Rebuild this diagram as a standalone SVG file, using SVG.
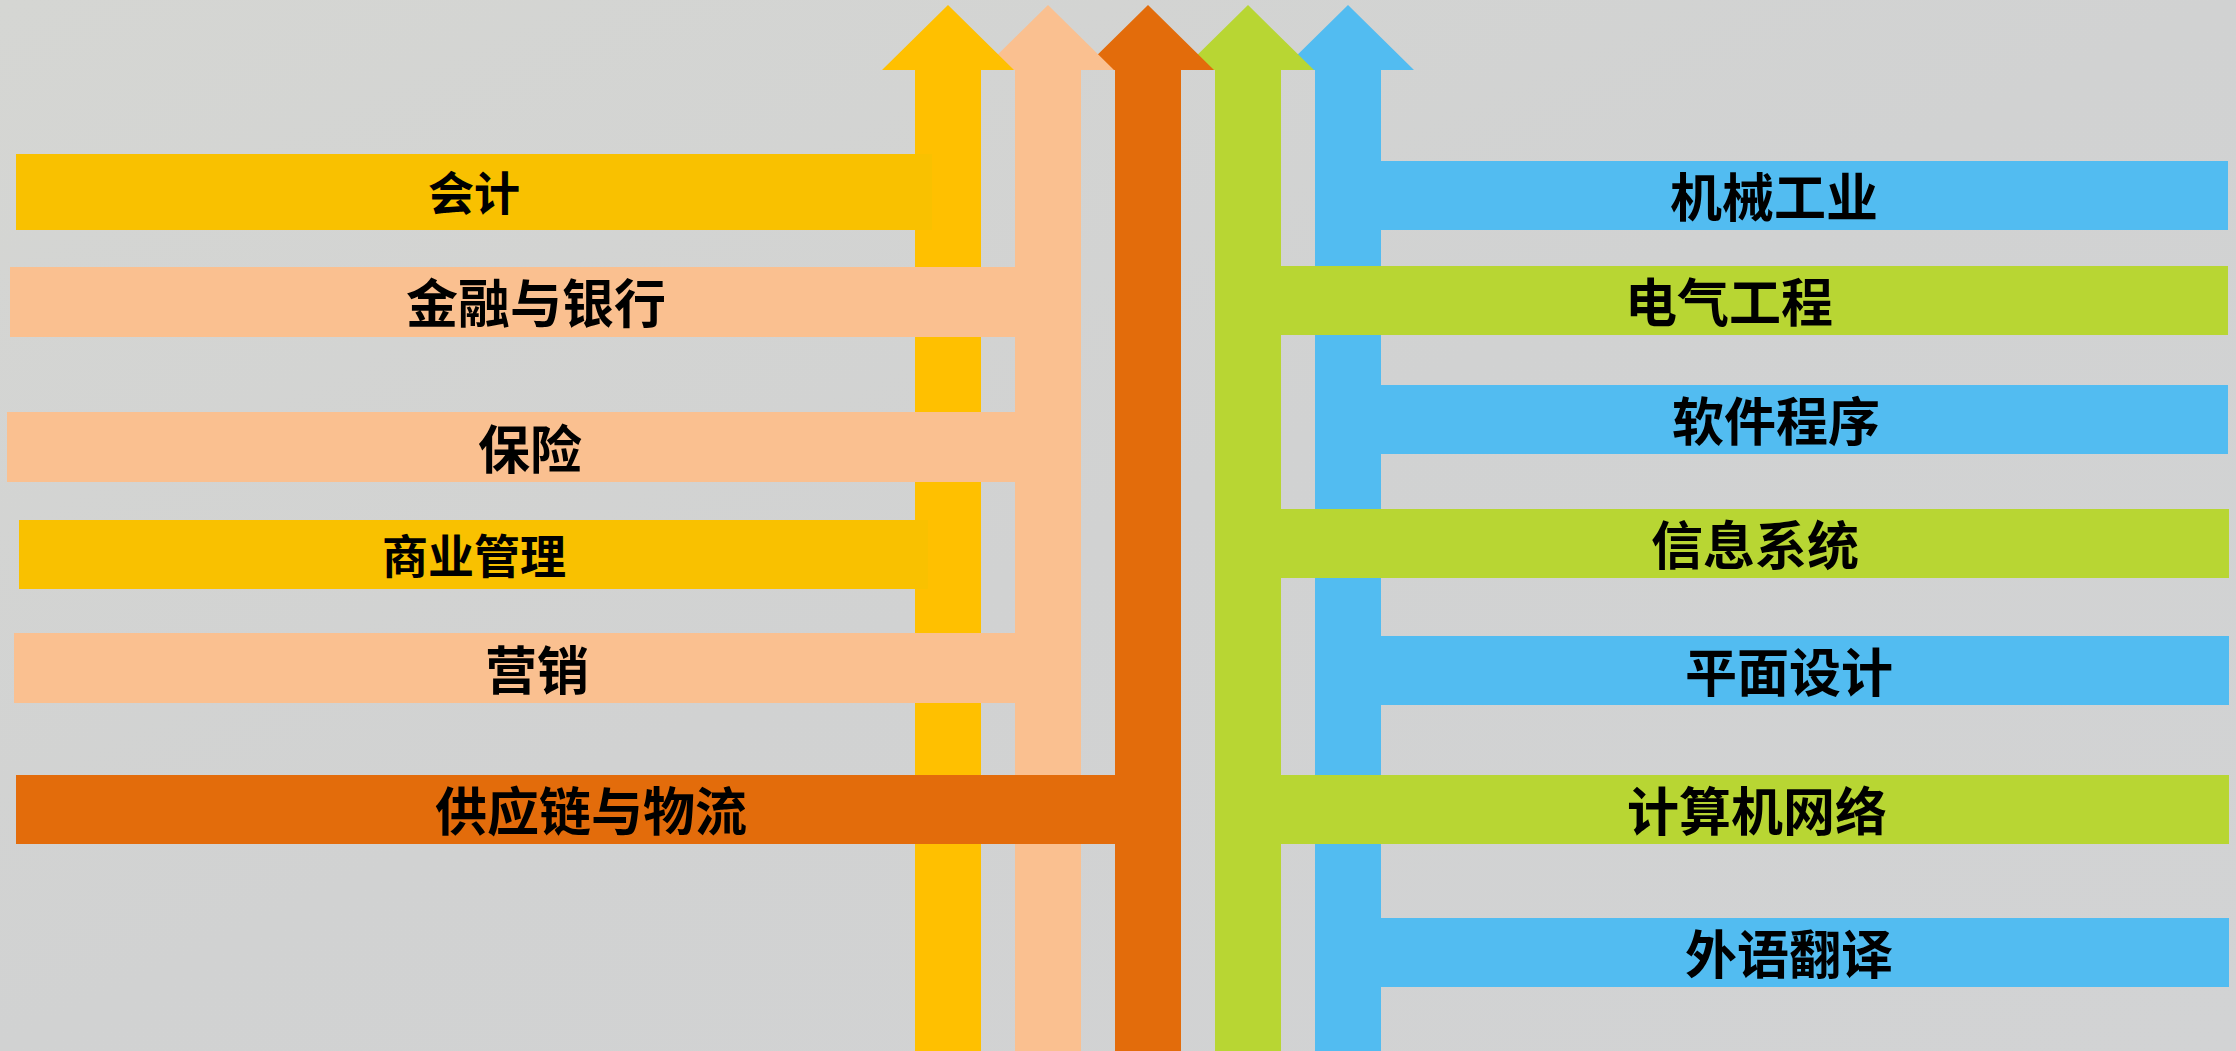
<svg xmlns="http://www.w3.org/2000/svg" xmlns:xlink="http://www.w3.org/1999/xlink" width="2236" height="1051" viewBox="0 0 2236 1051">
  <style>
    .yellow { fill: #FFC000; }
    .yellowbar { fill: #F9C100; }
    .peach { fill: #FAC090; }
    .orange { fill: #E36C0B; }
    .green { fill: #B8D633; }
    .blue { fill: #52BCF1; }
    .lbl { font-family: "Noto Sans CJK SC", "Liberation Sans", sans-serif; font-weight: 700; fill: #000000; text-anchor: middle; dominant-baseline: central; }
    .big { font-size: 52px; }
    .small { font-size: 46px; }
  </style>
  <defs>
    <linearGradient id="bg" x1="0" y1="0" x2="1" y2="1">
      <stop offset="0" stop-color="#D5D6D3"/>
      <stop offset="0.5" stop-color="#D1D2D2"/>
      <stop offset="1" stop-color="#D2D3D4"/>
    </linearGradient>
    <path id="arrowShape" d="M -33 1051 L -33 70 L -66 70 L 0 5 L 66 70 L 33 70 L 33 1051 Z"/>
  </defs>

  <rect x="0" y="0" width="2236" height="1051" fill="url(#bg)"/>

  <g id="connectors">
    <use xlink:href="#arrowShape" x="1348" class="blue"/>
    <use xlink:href="#arrowShape" x="1248" class="green"/>
    <use xlink:href="#arrowShape" x="1148" class="orange"/>
    <use xlink:href="#arrowShape" x="1048" class="peach"/>
    <use xlink:href="#arrowShape" x="948" class="yellow"/>
  </g>

  <g id="node-kuaiji">
    <rect x="16" y="154" width="916" height="76" class="yellowbar"/>
    <text x="474" y="190" class="lbl small">会计</text>
  </g>
  <g id="node-jinrong">
    <rect x="10" y="267" width="1010" height="70" class="peach"/>
    <text x="536" y="300" class="lbl big">金融与银行</text>
  </g>
  <g id="node-baoxian">
    <rect x="7" y="412" width="1013" height="70" class="peach"/>
    <text x="530" y="446" class="lbl big">保险</text>
  </g>
  <g id="node-shangye">
    <rect x="19" y="520" width="909" height="69" class="yellowbar"/>
    <text x="474" y="553" class="lbl small">商业管理</text>
  </g>
  <g id="node-yingxiao">
    <rect x="14" y="633" width="1006" height="70" class="peach"/>
    <text x="537" y="667" class="lbl big">营销</text>
  </g>
  <g id="node-gongying">
    <rect x="16" y="775" width="1104" height="69" class="orange"/>
    <text x="591" y="808" class="lbl big">供应链与物流</text>
  </g>

  <g id="node-jixie">
    <rect x="1376" y="161" width="852" height="69" class="blue"/>
    <text x="1774" y="194" class="lbl big">机械工业</text>
  </g>
  <g id="node-dianqi">
    <rect x="1276" y="266" width="952" height="69" class="green"/>
    <text x="1729" y="299" class="lbl big">电气工程</text>
  </g>
  <g id="node-ruanjian">
    <rect x="1376" y="385" width="852" height="69" class="blue"/>
    <text x="1776" y="418" class="lbl big">软件程序</text>
  </g>
  <g id="node-xinxi">
    <rect x="1276" y="509" width="953" height="69" class="green"/>
    <text x="1755" y="542" class="lbl big">信息系统</text>
  </g>
  <g id="node-pingmian">
    <rect x="1376" y="636" width="853" height="69" class="blue"/>
    <text x="1789" y="669" class="lbl big">平面设计</text>
  </g>
  <g id="node-jisuanji">
    <rect x="1276" y="775" width="953" height="69" class="green"/>
    <text x="1757" y="808" class="lbl big">计算机网络</text>
  </g>
  <g id="node-waiyu">
    <rect x="1376" y="918" width="853" height="69" class="blue"/>
    <text x="1789" y="951" class="lbl big">外语翻译</text>
  </g>
</svg>
